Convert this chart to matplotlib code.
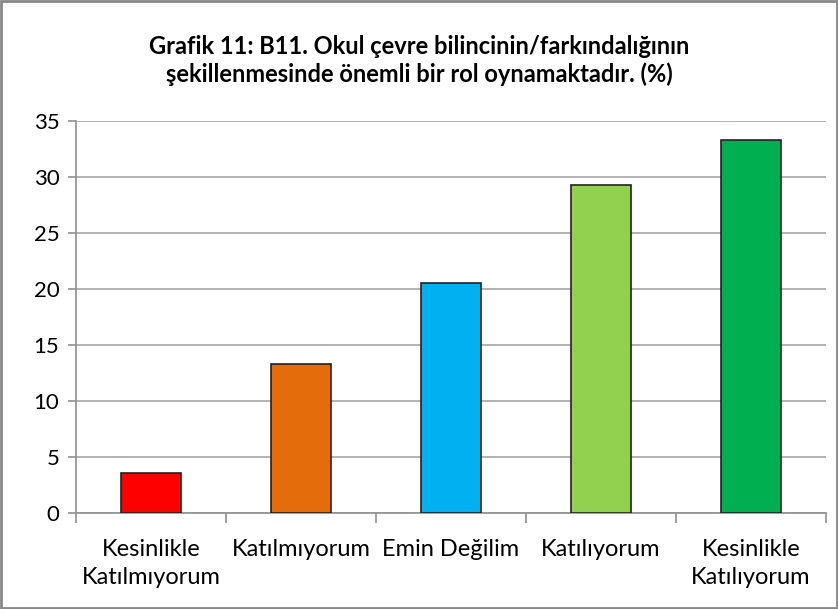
import matplotlib
matplotlib.use("Agg")
import matplotlib.pyplot as plt
from matplotlib.patches import Rectangle
from matplotlib import font_manager

# data
categories = ["Kesinlikle\nKatılmıyorum", "Katılmıyorum", "Emin Değilim",
              "Katılıyorum", "Kesinlikle\nKatılıyorum"]
values = [3.6, 13.3, 20.5, 29.3, 33.3]
colors = ["#FF0000", "#E46C0A", "#00B0F0", "#92D050", "#00B050"]
yticks = [0, 5, 10, 15, 20, 25, 30, 35]
title = ("Grafik 11: B11. Okul çevre bilincinin/farkındalığının\n"
         "şekillenmesinde önemli bir rol oynamaktadır. (%)")

# pick a narrow font if we have one
names = {f.name for f in font_manager.fontManager.ttflist}
fam = "Liberation Sans Narrow" if "Liberation Sans Narrow" in names else "Lato"
plt.rcParams['font.family'] = [fam, 'DejaVu Sans']

fig = plt.figure(figsize=(8.38, 6.09), dpi=100)
ax = fig.add_axes([0.0907, 0.1576, 0.895, 0.6437])

x = list(range(len(categories)))
ax.bar(x, values, width=0.4, color=colors, edgecolor="#222222", linewidth=1.2, zorder=3)

ax.set_xlim(-0.5, len(categories) - 0.5)
ax.set_ylim(0, 35)
ax.set_yticks(yticks)
ax.yaxis.grid(True, color="#a6a6a6", linewidth=1.2, zorder=0)

# category boundaries as tick marks
ax.set_xticks([i - 0.5 for i in range(len(categories) + 1)])
ax.set_xticklabels([])
ax.set_xticks(x, minor=True)
ax.set_xticklabels(categories, minor=True, fontsize=17, linespacing=1.4)
ax.tick_params(axis="x", which="minor", length=0, pad=19)
ax.tick_params(axis="x", which="major", length=7, color="#909090", width=1.2)
ax.tick_params(axis="y", length=6, color="#909090", width=1.2, labelsize=16, pad=6)

for s in ["top", "right"]:
    ax.spines[s].set_visible(False)
for s in ["left", "bottom"]:
    ax.spines[s].set_color("#909090")
    ax.spines[s].set_linewidth(1.2)

fig.text(0.5, 0.901, title, ha="center", va="center", fontsize=17,
         fontweight="bold", linespacing=1.25)

# grey border around the chart
fig.patches.append(Rectangle((0.001, 0.001), 0.998, 0.998, transform=fig.transFigure,
                             fill=False, edgecolor="#888888", linewidth=2))

fig.savefig("out.png", dpi=100)
